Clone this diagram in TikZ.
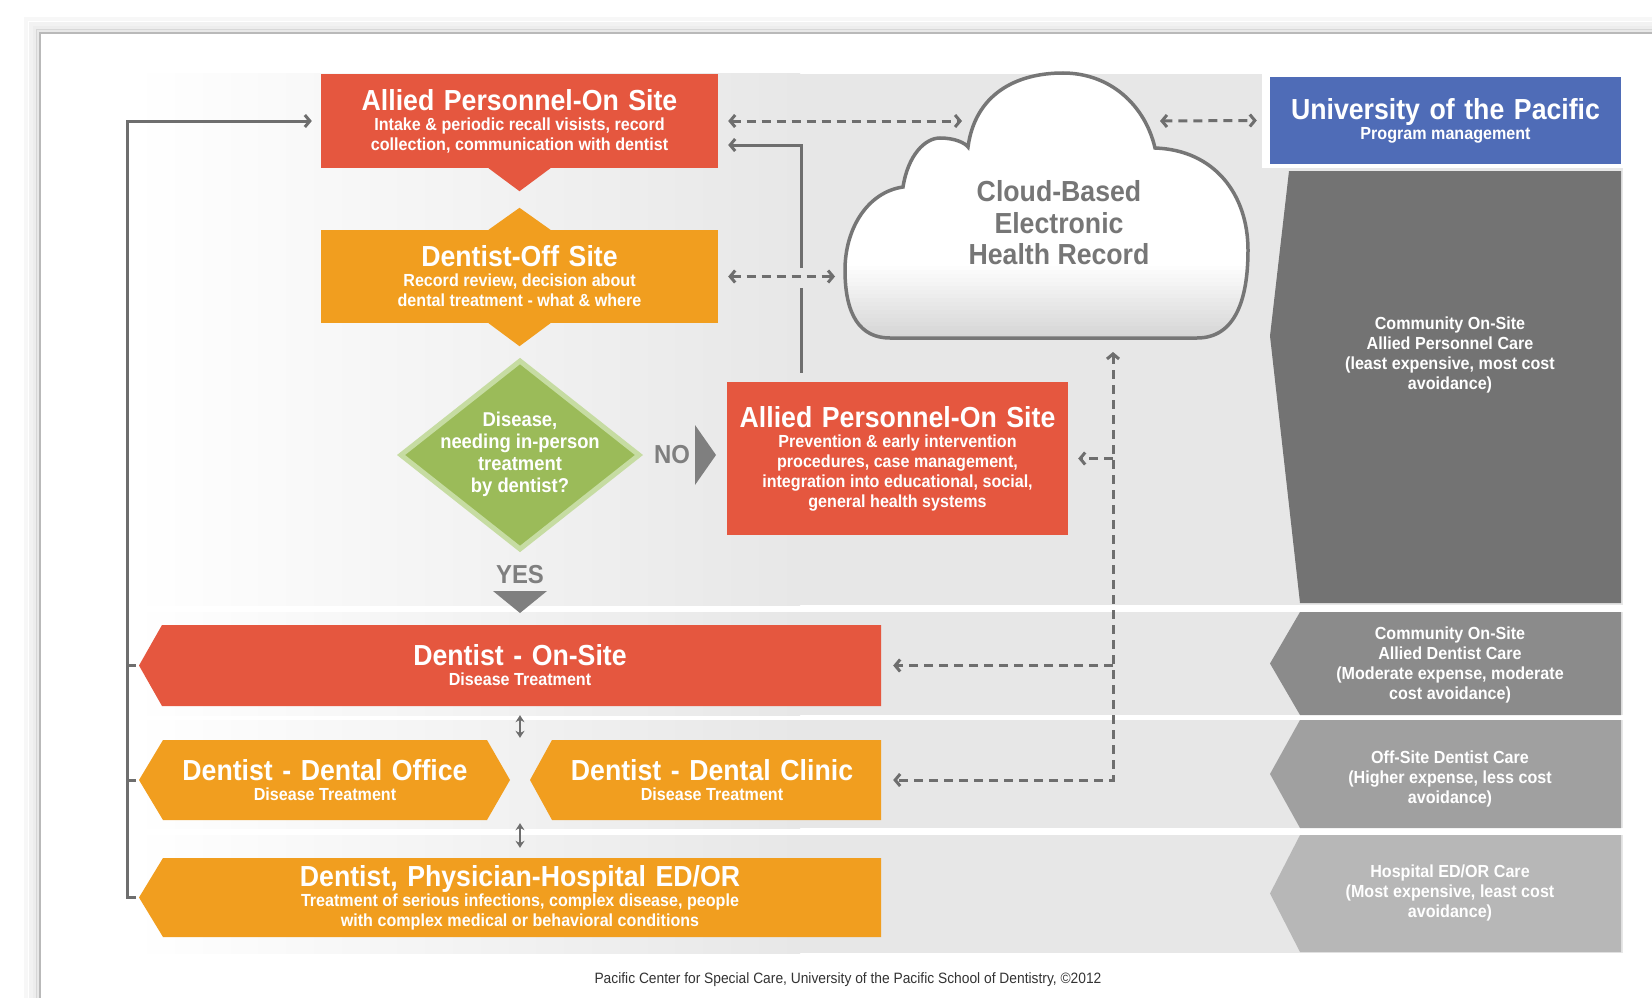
\documentclass[tikz,border=0pt]{standalone}
\usepackage{fontspec}
\setmainfont{Liberation Sans}[FakeStretch=0.92]
\usetikzlibrary{arrows.meta,positioning,shapes.geometric,calc}
\definecolor{boxred}{HTML}{E5573F}
\definecolor{boxorange}{HTML}{F19E1F}
\definecolor{boxgreen}{HTML}{9BBB59}
\definecolor{greenrim}{HTML}{C6DCA2}
\definecolor{boxblue}{HTML}{4F6CB7}
\definecolor{panelgray}{HTML}{E7E7E7}
\definecolor{linegray}{HTML}{6E6E6E}
\definecolor{signgray}{HTML}{7F7F7F}
\definecolor{cloudgray}{HTML}{767676}
\definecolor{tierone}{HTML}{737373}
\definecolor{tiertwo}{HTML}{8B8B8B}
\definecolor{tierthree}{HTML}{A0A0A0}
\definecolor{tierfour}{HTML}{B7B7B7}
\newcommand{\boxtitle}{\fontsize{29}{31}\selectfont\bfseries\spaceskip=.33em\relax}
\newcommand{\boxsub}{\fontsize{17.5}{20}\selectfont\bfseries\spaceskip=.26em\relax}
\tikzset{
  linkTip/.tip={Straight Barb[length=5pt,width=12pt]},
  pairTip/.tip={Stealth[length=7pt,width=9pt]}
}

\begin{document}
\begin{tikzpicture}[x=1pt,y=-1pt,
    careBox/.style={rectangle,inner sep=0pt,text=white,align=center},
    tierText/.style={text=white,align=center,font=\boxsub},
    signText/.style={text=signgray,font=\fontsize{26}{28}\selectfont\bfseries},
    flowLine/.style={draw=linegray,line width=3pt},
    recLink/.style={draw=linegray,line width=3pt,dash pattern=on 9pt off 6pt}]
  \useasboundingbox (0,0) rectangle (1652,998);
  \fill[white] (0,0) rectangle (1652,998);
  % page edge and its shadow
  \foreach \d/\o in {14/0.03,9/0.05,5/0.07,2/0.09}
    \draw[black,opacity=\o,line width=4pt] (40-\d,998) -- (40-\d,33-\d) -- (1652,33-\d);
  \draw[gray!55,line width=1.5pt] (40,998) -- (40,33) -- (1652,33);
  % gray panel and the three care bands
  \shade[left color=white,right color=panelgray] (133,74) rectangle (800,605);
  \fill[panelgray] (800,74) rectangle (1623,605);
  \foreach \top/\bot in {612/715,720/828,835/953}{
    \shade[left color=white,right color=panelgray] (133,\top) rectangle (800,\bot);
    \fill[panelgray] (800,\top) rectangle (1623,\bot);
  }
  % right column
  \fill[white] (1262,70) rectangle (1630,168);
  \node[careBox,fill=boxblue,minimum width=351pt,minimum height=87pt,text width=345pt] (upop) at (1445.5,120.5)
    {\boxtitle University of the Pacific\par\boxsub Program management\par};
  \fill[tierone] (1289,171) -- (1621,171) -- (1621,603) -- (1300,603) -- (1270,336) -- cycle;
  \fill[tiertwo] (1300,612) -- (1621,612) -- (1621,715) -- (1300,715) -- (1270,663.5) -- cycle;
  \fill[tierthree] (1300,720) -- (1621,720) -- (1621,828) -- (1300,828) -- (1270,774) -- cycle;
  \fill[tierfour] (1300,835) -- (1621,835) -- (1621,952) -- (1300,952) -- (1270,893.5) -- cycle;
  \node[tierText] (tierA) at (1450,355) {Community On-Site\\Allied Personnel Care\\(least expensive, most cost\\avoidance)};
  \node[tierText] (tierB) at (1450,665) {Community On-Site\\Allied Dentist Care\\(Moderate expense, moderate\\cost avoidance)};
  \node[tierText] (tierC) at (1450,779) {Off-Site Dentist Care\\(Higher expense, less cost\\avoidance)};
  \node[tierText] (tierD) at (1450,893) {Hospital ED/OR Care\\(Most expensive, least cost\\avoidance)};
  % cloud record
  \draw[draw=cloudgray,line width=3.5pt,fill=white,
      path picture={\foreach \i in {0,...,19}
        \fill[black,opacity=0.009*\i] (840,262+4*\i) rectangle (1255,266+4*\i);}]
    (890,338) .. controls (860,338) and (845,315) .. (845,270)
    .. controls (845,228) and (868,192) .. (903,187)
    .. controls (908,155) and (925,138) .. (940,138)
    .. controls (955,138) and (965,143) .. (968,147)
    .. controls (975,95) and (1015,73) .. (1063,73)
    .. controls (1110,73) and (1145,105) .. (1155,148)
    .. controls (1215,150) and (1248,195) .. (1248,250)
    .. controls (1248,300) and (1235,338) .. (1197,338)
    -- cycle;
  \node[text=cloudgray,align=center,font=\fontsize{29}{31.5}\selectfont\bfseries] (ehr) at (1059,223)
    {Cloud-Based\\Electronic\\Health Record};
  \coordinate (ehrNotchL) at (962,121);
  \coordinate (ehrNotchR) at (1160,121);
  \coordinate (ehrLeft) at (835,276.5);
  \coordinate (ehrBottom) at (1113,352);
  % upper flow
  \node[careBox,fill=boxred,minimum width=397pt,minimum height=94pt,text width=390pt] (alliedTop) at (519.5,121)
    {\boxtitle Allied Personnel-On Site\par\boxsub Intake \& periodic recall visists, record\\collection, communication with dentist\par};
  \fill[boxred] ([xshift=-31pt]alliedTop.south) -- ([xshift=31pt]alliedTop.south) -- ([yshift=-23pt]alliedTop.south) -- cycle;
  \node[careBox,fill=boxorange,minimum width=397pt,minimum height=93pt,text width=390pt] (offSite) at (519.5,276.5)
    {\boxtitle Dentist-Off Site\par\boxsub Record review, decision about\\dental treatment - what \& where\par};
  \fill[boxorange] ([xshift=-31pt]offSite.north) -- ([xshift=31pt]offSite.north) -- ([yshift=22pt]offSite.north) -- cycle;
  \fill[boxorange] ([xshift=-31pt]offSite.south) -- ([xshift=31pt]offSite.south) -- ([yshift=-23pt]offSite.south) -- cycle;
  \node[diamond,fill=boxgreen,draw=greenrim,line width=5pt,minimum width=240pt,minimum height=190pt,inner sep=0pt] (decision) at (520,455) {};
  \node[text=white,align=center,font=\fontsize{20}{22}\selectfont\bfseries] (decisionText) at (520,454)
    {Disease,\\needing in-person\\treatment\\by dentist?};
  \node[signText] (noLabel) at (672,455) {NO};
  \fill[signgray] (695,425) -- (716,455) -- (695,485) -- cycle;
  \node[careBox,fill=boxred,minimum width=341pt,minimum height=153pt,text width=335pt] (alliedLow) at (897.5,458.5)
    {\boxtitle Allied Personnel-On Site\par\boxsub Prevention \& early intervention\\procedures, case management,\\integration into educational, social,\\general health systems\par};
  \node[signText] (yesLabel) at (520,575) {YES};
  \fill[signgray] (493,591) -- (547,591) -- (520,613) -- cycle;
  % care levels
  \fill[boxred] (139,665.5) -- (162,625) -- (881,625) -- (881,706) -- (162,706) -- cycle;
  \node[careBox,minimum width=722pt,minimum height=81pt,text width=700pt] (onSite) at (520,665.5)
    {\boxtitle Dentist - On-Site\par\boxsub Disease Treatment\par};
  \fill[boxorange] (139,780) -- (163,740) -- (487,740) -- (510,780) -- (487,820) -- (163,820) -- cycle;
  \node[careBox,minimum width=324pt,minimum height=80pt,text width=320pt] (dentalOffice) at (325,780)
    {\boxtitle Dentist - Dental Office\par\boxsub Disease Treatment\par};
  \fill[boxorange] (530,780) -- (552,740) -- (881,740) -- (881,820) -- (552,820) -- cycle;
  \node[careBox,minimum width=338pt,minimum height=80pt,text width=330pt] (dentalClinic) at (712,780)
    {\boxtitle Dentist - Dental Clinic\par\boxsub Disease Treatment\par};
  \fill[boxorange] (139,897.5) -- (163,858) -- (881,858) -- (881,937) -- (163,937) -- cycle;
  \node[careBox,minimum width=722pt,minimum height=79pt,text width=700pt] (hospital) at (520,897.5)
    {\boxtitle Dentist, Physician-Hospital ED/OR\par\boxsub Treatment of serious infections, complex disease, people\\with complex medical or behavioral conditions\par};
  % connectors
  \coordinate (loopX) at (127,0);
  \coordinate (loopTick) at (136,0);
  \coordinate (trunkX) at (1113,0);
  \coordinate (riserFoot) at ($(alliedLow.north)+(-96.5,-9)$);
  \draw[flowLine,-linkTip] (loopTick |- hospital.west) -- (loopX |- hospital.west) -- (loopX |- alliedTop.west) -- ([xshift=-9pt]alliedTop.west);
  \draw[flowLine] (loopX |- onSite.west) -- (loopTick |- onSite.west);
  \draw[flowLine] (loopX |- dentalOffice.west) -- (loopTick |- dentalOffice.west);
  \draw[flowLine,-linkTip] (riserFoot) |- ([xshift=10pt,yshift=-24pt]alliedTop.east);
  \fill[panelgray] (794,268) rectangle (808,288);
  \draw[recLink,linkTip-linkTip] ([xshift=10pt]alliedTop.east) -- (ehrNotchL);
  \draw[recLink,linkTip-linkTip] ([xshift=10pt]offSite.east) -- (ehrLeft);
  \draw[recLink,linkTip-linkTip] (ehrNotchR) -- ([xshift=-13pt]upop.west);
  \draw[recLink,linkTip-linkTip] (ehrBottom) |- ([xshift=12pt]dentalClinic.east);
  \draw[recLink,-linkTip] (trunkX |- alliedLow.east) -- ([xshift=10pt]alliedLow.east);
  \draw[recLink,-linkTip] (trunkX |- onSite.east) -- ([xshift=12pt]onSite.east);
  \draw[draw=linegray,line width=2.5pt,pairTip-pairTip] ($(onSite.south)+(0,9)$) -- ($(onSite.south |- dentalOffice.north)+(0,-2)$);
  \draw[draw=linegray,line width=2.5pt,pairTip-pairTip] ($(onSite.south |- dentalOffice.south)+(0,3)$) -- ($(onSite.south |- hospital.north)+(0,-10)$);
  \node[text=black!80,font=\fontsize{15}{16}\selectfont] (credit) at (848,980)
    {Pacific Center for Special Care, University of the Pacific School of Dentistry, \textcopyright2012};
\end{tikzpicture}
\end{document}
